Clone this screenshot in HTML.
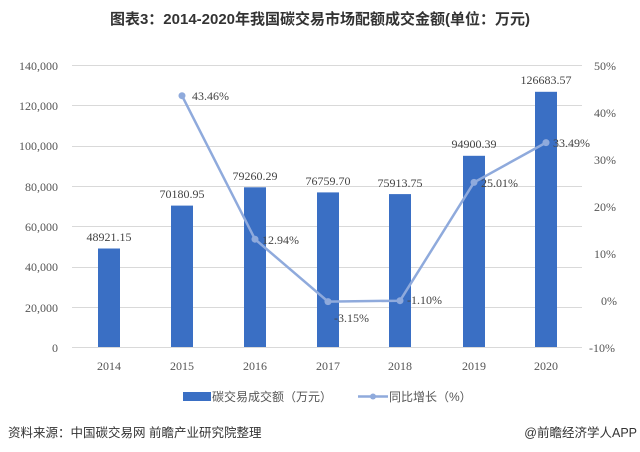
<!DOCTYPE html>
<html><head><meta charset="utf-8"><style>
body{margin:0;background:#fff;width:640px;height:452px;overflow:hidden}
svg{display:block}
</style></head><body>
<svg width="640" height="452" xmlns="http://www.w3.org/2000/svg" font-family="'Liberation Serif','Noto Serif CJK SC',serif">
<text x="320" y="24" text-anchor="middle" font-family="'Liberation Sans','Noto Sans CJK SC',sans-serif" font-weight="bold" font-size="15" fill="#333">图表3：2014-2020年我国碳交易市场配额成交金额(单位：万元)</text>
<g stroke="#d9d9d9" stroke-width="1">
<line x1="72" y1="65.5" x2="582" y2="65.5"/><line x1="72" y1="105.5" x2="582" y2="105.5"/><line x1="72" y1="146.5" x2="582" y2="146.5"/><line x1="72" y1="186.5" x2="582" y2="186.5"/><line x1="72" y1="226.5" x2="582" y2="226.5"/><line x1="72" y1="267.5" x2="582" y2="267.5"/><line x1="72" y1="307.5" x2="582" y2="307.5"/><line x1="72" y1="347.5" x2="582" y2="347.5"/>
</g>
<g font-size="12" fill="#555" text-anchor="end">
<text x="58" y="70">140,000</text><text x="58" y="110">120,000</text><text x="58" y="150">100,000</text><text x="58" y="191">80,000</text><text x="58" y="231">60,000</text><text x="58" y="271">40,000</text><text x="58" y="312">20,000</text><text x="58" y="352">0</text>
</g>
<g font-size="12" fill="#555">
<text x="594" y="70">50%</text><text x="594" y="117">40%</text><text x="594" y="164">30%</text><text x="594" y="211">20%</text><text x="594" y="258">10%</text><text x="601" y="305">0%</text><text x="589" y="352">-10%</text>
</g>
<g fill="#3a6fc4">
<rect x="98" y="248.5" width="22" height="98.5"/><rect x="171" y="205.6" width="22" height="141.4"/><rect x="244" y="187.3" width="22" height="159.7"/><rect x="317" y="192.4" width="22" height="154.6"/><rect x="389" y="194.1" width="22" height="152.9"/><rect x="463" y="155.8" width="22" height="191.2"/><rect x="535" y="91.8" width="22" height="255.2"/>
</g>
<g font-size="12" fill="#444" text-anchor="middle">
<text x="109" y="241">48921.15</text><text x="182" y="198">70180.95</text><text x="255" y="180">79260.29</text><text x="328" y="185">76759.70</text><text x="400" y="187">75913.75</text><text x="474" y="148">94900.39</text><text x="546" y="84">126683.57</text>
</g>
<polyline points="182,95.7 255,239.2 328,301.6 400,300.7 474,182.4 546,142.6" fill="none" stroke="#8faadc" stroke-width="2.5"/>
<g fill="#8faadc">
<circle cx="182" cy="95.7" r="3.5"/><circle cx="255" cy="239.2" r="3.5"/><circle cx="328" cy="301.6" r="3.5"/><circle cx="400" cy="300.7" r="3.5"/><circle cx="474" cy="182.4" r="3.5"/><circle cx="546" cy="142.6" r="3.5"/>
</g>
<g font-size="12" fill="#444">
<text x="192" y="100">43.46%</text><text x="262" y="244">12.94%</text><text x="334" y="322">-3.15%</text><text x="407" y="304">-1.10%</text><text x="481" y="187">25.01%</text><text x="553" y="147">33.49%</text>
</g>
<g font-size="12" fill="#555" text-anchor="middle">
<text x="109" y="370">2014</text><text x="182" y="370">2015</text><text x="255" y="370">2016</text><text x="328" y="370">2017</text><text x="400" y="370">2018</text><text x="474" y="370">2019</text><text x="546" y="370">2020</text>
</g>
<rect x="183" y="392" width="28" height="9" fill="#3a6fc4"/>
<text x="212" y="401" font-size="12" fill="#555" font-family="'Liberation Sans','Noto Sans CJK SC',sans-serif">碳交易成交额（万元）</text>
<line x1="358" y1="396.5" x2="388" y2="396.5" stroke="#8faadc" stroke-width="2.5"/>
<circle cx="373" cy="396.5" r="3" fill="#8faadc"/>
<text x="389" y="401" font-size="12" fill="#555" font-family="'Liberation Sans','Noto Sans CJK SC',sans-serif">同比增长（%）</text>
<text x="8" y="437" font-size="12.5" fill="#333" font-family="'Liberation Sans','Noto Sans CJK SC',sans-serif">资料来源：中国碳交易网 前瞻产业研究院整理</text>
<text x="637" y="437" text-anchor="end" font-size="12.5" fill="#333" font-family="'Liberation Sans','Noto Sans CJK SC',sans-serif">@前瞻经济学人APP</text>
</svg>
</body></html>
